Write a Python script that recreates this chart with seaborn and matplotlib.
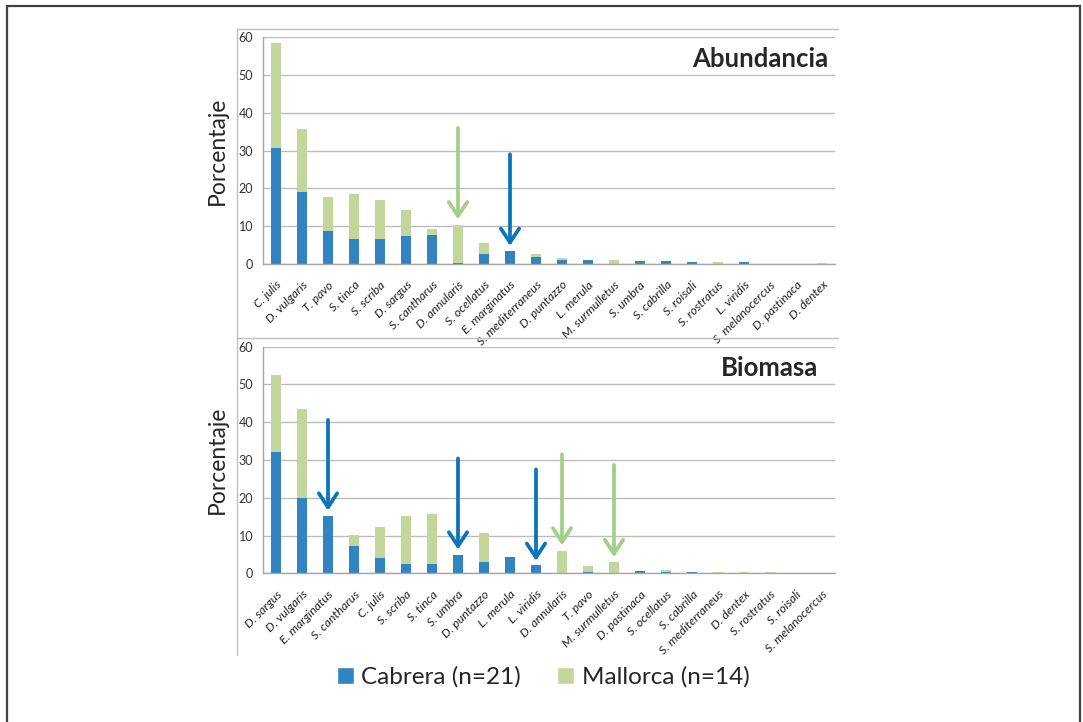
"""
Abundancia y biomasa por especie: Cabrera vs Mallorca (barras apiladas).
"""

import matplotlib
matplotlib.use("Agg")
import matplotlib.pyplot as plt
import seaborn as sns
import numpy as np
from matplotlib.patches import Patch, Rectangle
from matplotlib.lines import Line2D

# ---- data ----
abund_species = ["C. julis", "D. vulgaris", "T. pavo", "S. tinca", "S. scriba",
                 "D. sargus", "S. cantharus", "D. annularis", "S. ocellatus",
                 "E. marginatus", "S. mediterraneus", "D. puntazzo", "L. merula",
                 "M. surmulletus", "S. umbra", "S. cabrilla", "S. roisali",
                 "S. rostratus", "L. viridis", "S. melanocercus", "D. pastinaca",
                 "D. dentex"]
abund_cabrera = [30.6, 19.1, 8.6, 6.5, 6.6, 7.4, 7.6, 0.35, 2.6, 3.5, 1.85, 0.95,
                 1.1, 0.0, 0.7, 0.7, 0.5, 0.0, 0.4, 0.0, 0.0, 0.0]
abund_mallorca = [27.8, 16.5, 9.1, 11.9, 10.3, 6.8, 1.6, 10.05, 2.9, 0.0, 0.75, 0.75,
                  0.0, 1.1, 0.0, 0.0, 0.0, 0.6, 0.0, 0.0, 0.0, 0.15]

biom_species = ["D. sargus", "D. vulgaris", "E. marginatus", "S. cantharus", "C. julis",
                "S. scriba", "S. tinca", "S. umbra", "D. puntazzo", "L. merula",
                "L. viridis", "D. annularis", "T. pavo", "M. surmulletus",
                "D. pastinaca", "S. ocellatus", "S. cabrilla", "S. mediterraneus",
                "D. dentex", "S. rostratus", "S. roisali", "S. melanocercus"]
biom_cabrera = [32.0, 19.9, 15.2, 7.3, 4.0, 2.5, 2.4, 4.8, 3.0, 4.4,
                2.1, 0.0, 0.45, 0.0, 0.5, 0.45, 0.35, 0.2, 0.0, 0.0, 0.2, 0.2]
biom_mallorca = [20.4, 23.6, 0.0, 2.9, 8.3, 12.8, 13.2, 0.0, 7.7, 0.0,
                 0.0, 5.9, 1.45, 3.1, 0.0, 0.35, 0.0, 0.05, 0.25, 0.3, 0.0, 0.0]

# arrows: (species, start value, tip value, colour key)
abund_arrows = [("D. annularis", 36.0, 11.8, "mal"), ("E. marginatus", 29.0, 4.8, "cab")]
biom_arrows = [("E. marginatus", 40.6, 16.6, "cab"), ("S. umbra", 30.4, 6.3, "cab"),
               ("L. viridis", 27.5, 3.3, "cab"), ("D. annularis", 31.5, 7.4, "mal"),
               ("M. surmulletus", 28.7, 4.3, "mal")]

BLUE = "#3183c1"
GREEN = "#c3d69b"
ARROW = {"cab": "#0b74bb", "mal": "#a3cf88"}
GRID = "#bdbdbd"

sns.set_style("white")
plt.rcParams["font.family"] = ["Lato", "DejaVu Sans"]

W, H = 1083, 722
fig = plt.figure(figsize=(W / 100, H / 100), dpi=100)


def px(x0, y_top, x1, y_bot):
    """pixel box -> figure rect."""
    return [x0 / W, 1 - y_bot / H, (x1 - x0) / W, (y_bot - y_top) / H]


def draw_panel(ax, species, cab, mal, arrows, title, title_x):
    total = np.array(cab) + np.array(mal)
    sns.barplot(x=species, y=total, color=GREEN, saturation=1, width=0.38,
                linewidth=0, ax=ax)
    sns.barplot(x=species, y=cab, color=BLUE, saturation=1, width=0.38,
                linewidth=0, ax=ax)
    ax.set_ylim(0, 60)
    ax.set_xlim(-0.5, len(species) - 0.5)
    ax.set_yticks(range(0, 61, 10))
    ax.yaxis.grid(True, color=GRID, lw=1)
    ax.set_axisbelow(True)
    for s in ["top", "right"]:
        ax.spines[s].set_visible(False)
    for s in ["left", "bottom"]:
        ax.spines[s].set_color("#a6a6a6")
        ax.spines[s].set_linewidth(1)
    ax.tick_params(axis="y", length=4, color="#a6a6a6", labelsize=9,
                   labelcolor="#333333", pad=3)
    ax.set_xticks(range(len(species)))
    ax.set_xticklabels(species, rotation=45, ha="right", rotation_mode="anchor",
                       fontsize=8.8, style="italic", color="#202020")
    ax.tick_params(axis="x", which="major", length=0, pad=11)
    ax.set_xticks(np.arange(len(species) - 1) + 0.5, minor=True)
    ax.tick_params(axis="x", which="minor", length=4, color="#a6a6a6")
    ax.set_xlabel("")
    ax.set_ylabel("Porcentaje", fontsize=16.5)
    ax.yaxis.set_label_coords(-0.062, 0.5)
    ax.text(title_x, 0.905, title, transform=ax.transAxes, ha="right", va="center",
            fontsize=18.5, fontweight="bold")

    for name, start, tip, key in arrows:
        i = species.index(name)
        ax.annotate("", xy=(i, tip), xytext=(i, start),
                    arrowprops=dict(arrowstyle="->,head_length=0.5,head_width=0.33",
                                    color=ARROW[key], lw=2.7, mutation_scale=20,
                                    shrinkA=0, shrinkB=0))


ax1 = fig.add_axes(px(263, 37, 835, 264))
draw_panel(ax1, abund_species, abund_cabrera, abund_mallorca, abund_arrows,
           "Abundancia", 0.988)

ax2 = fig.add_axes(px(263, 346.7, 835, 573.3))
draw_panel(ax2, biom_species, biom_cabrera, biom_mallorca, biom_arrows,
           "Biomasa", 0.970)

# frames
fig.add_artist(Rectangle((7 / W, -0.05), 1073 / W, 1.05 - 6 / H, transform=fig.transFigure,
                         fill=False, edgecolor="#404040", lw=1.6))
fig.add_artist(Line2D([237 / W, 237 / W], [1 - 29 / H, 1 - 655 / H],
                      transform=fig.transFigure, color="#bfbfbf", lw=1))
for yy in (29, 338):
    fig.add_artist(Line2D([237 / W, 838 / W], [1 - yy / H, 1 - yy / H],
                          transform=fig.transFigure, color="#bfbfbf", lw=1))

handles = [Patch(facecolor=BLUE, label="Cabrera (n=21)"),
           Patch(facecolor=GREEN, label="Mallorca (n=14)")]
fig.legend(handles=handles, loc="center", bbox_to_anchor=(543 / W, 1 - 677 / H),
           ncol=2, frameon=False, fontsize=17.5, handlelength=0.7, handleheight=0.7,
           handletextpad=0.3, columnspacing=1.5)

fig.savefig("out.png", dpi=100)
